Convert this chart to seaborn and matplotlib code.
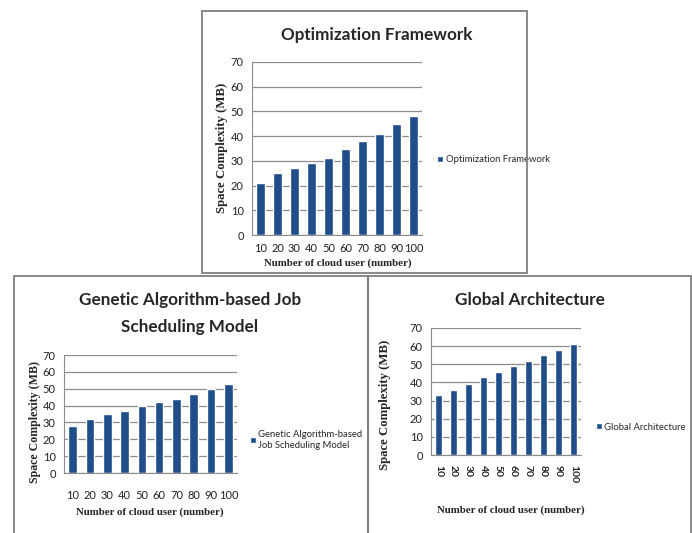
import matplotlib
matplotlib.use("Agg")
import matplotlib.pyplot as plt
import numpy as np
import pandas as pd
import seaborn as sns
from matplotlib.patches import Rectangle

# data
users = [10, 20, 30, 40, 50, 60, 70, 80, 90, 100]
optimization = [21, 25, 27, 29, 31, 35, 38, 41, 45, 48]
genetic = [28, 32, 35, 37, 40, 42, 44, 47, 50, 53]
global_arch = [33, 36, 39, 43, 46, 49, 52, 55, 58, 61]

bar_color = "#1f4e8a"
title_font = {"family": "Lato", "weight": "bold", "size": 12.3}
xlabel_font = {"family": "Liberation Serif", "weight": "bold", "size": 7.8}
ylabel_font = {"family": "Liberation Serif", "weight": "bold", "size": 9.2}
tick_font = "Lato"

sns.set_style("white")
W, H = 692, 533
fig = plt.figure(figsize=(W / 100, H / 100), dpi=100)


def px(x0, y0, x1, y1):
    # pixel box (top-left origin) -> figure fraction rect
    return [x0 / W, 1 - y1 / H, (x1 - x0) / W, (y1 - y0) / H]


def frame(x0, y0, x1, y1):
    l, b, w, h = px(x0, y0, x1, y1)
    fig.patches.append(Rectangle((l, b), w, h, transform=fig.transFigure,
                                 fill=False, edgecolor="#7f7f7f", lw=1.3))


def bar_chart(rect, values, legend, legend_pos, rotate=False, tickpad=10):
    ax = fig.add_axes(rect)
    df = pd.DataFrame({"users": [str(u) for u in users], "mb": values})
    sns.barplot(data=df, x="users", y="mb", color=bar_color, width=0.5,
                saturation=1, label=legend, ax=ax)
    ax.set_ylim(0, 70)
    ax.set_yticks(np.arange(0, 71, 10))
    ax.set_xlim(-0.5, len(users) - 0.5)
    ax.yaxis.grid(True, color="#8c8c8c", lw=0.9)
    ax.set_axisbelow(True)
    for s in ["top", "right"]:
        ax.spines[s].set_visible(False)
    for s in ["left", "bottom"]:
        ax.spines[s].set_color("#8c8c8c")
    ax.set_xticks(np.arange(-0.5, len(users), 1), minor=True)
    ax.tick_params(axis="x", which="minor", length=4, color="#8c8c8c", direction="out")
    ax.tick_params(axis="x", which="major", length=0, pad=tickpad)
    ax.tick_params(axis="y", length=4, color="#8c8c8c", pad=2)
    for t in ax.get_xticklabels() + ax.get_yticklabels():
        t.set_fontfamily(tick_font)
        t.set_fontsize(8)
        t.set_color("#222222")
    if rotate:
        for t in ax.get_xticklabels():
            t.set_rotation(270)
            t.set_fontweight("bold")
            t.set_fontsize(7.5)
    ax.set_xlabel("")
    ax.set_ylabel("")
    ax.legend(loc="center left", bbox_to_anchor=legend_pos,
              bbox_transform=fig.transFigure, frameon=False,
              prop={"family": tick_font, "size": 6.8},
              handlelength=0.6, handleheight=0.6, handletextpad=0.3,
              borderpad=0, borderaxespad=0)
    return ax


# frames
frame(202, 11, 527, 273)
frame(14, 276, 368, 540)
frame(368, 276, 691, 540)

# top chart
bar_chart(px(252, 62, 422, 235), optimization, "Optimization Framework",
          (437 / W, 1 - 160 / H), tickpad=6)
fig.text(377 / W, 1 - 35 / H, "Optimization Framework", ha="center", va="center", **title_font)
fig.text(222 / W, 1 - 148 / H, "Space Complexity (MB)", rotation=90, ha="center", va="center", **ylabel_font)
fig.text(338 / W, 1 - 263 / H, "Number of cloud user (number)", ha="center", va="center", **xlabel_font)

# bottom left chart
bar_chart(px(64, 355, 237, 473), genetic, "Genetic Algorithm-based\nJob Scheduling Model",
          (250 / W, 1 - 440 / H), tickpad=12)
fig.text(190 / W, 1 - 300 / H, "Genetic Algorithm-based Job", ha="center", va="center", **title_font)
fig.text(190 / W, 1 - 327 / H, "Scheduling Model", ha="center", va="center", **title_font)
fig.text(35 / W, 1 - 422 / H, "Space Complexity (MB)", rotation=90, ha="center", va="center",
         family="Liberation Serif", weight="bold", size=8.6)
fig.text(150 / W, 1 - 512 / H, "Number of cloud user (number)", ha="center", va="center", **xlabel_font)

# bottom right chart
bar_chart(px(431, 328, 581, 455), global_arch, "Global Architecture",
          (596 / W, 1 - 427 / H), rotate=True, tickpad=7)
fig.text(530 / W, 1 - 300 / H, "Global Architecture", ha="center", va="center", **title_font)
fig.text(385 / W, 1 - 405 / H, "Space Complexity (MB)", rotation=90, ha="center", va="center", **ylabel_font)
fig.text(511 / W, 1 - 510 / H, "Number of cloud user (number)", ha="center", va="center", **xlabel_font)

fig.savefig("out.png", dpi=100)
